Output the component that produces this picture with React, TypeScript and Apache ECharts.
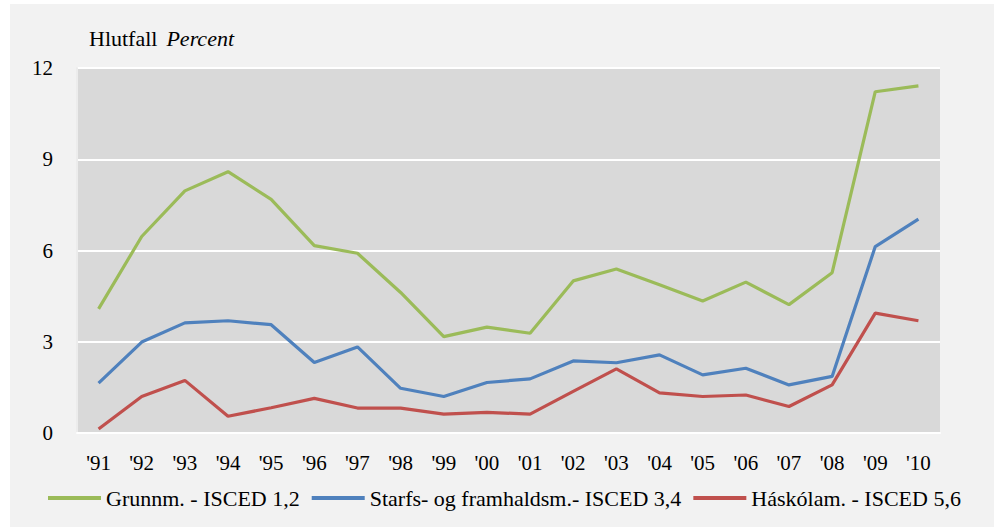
import React, { useEffect, useRef } from "react";
import * as echarts from "echarts";

const years = ["'91", "'92", "'93", "'94", "'95", "'96", "'97", "'98", "'99", "'00", "'01", "'02", "'03", "'04", "'05", "'06", "'07", "'08", "'09", "'10"];
const grunnm = [4.08, 6.46, 7.96, 8.59, 7.68, 6.16, 5.91, 4.62, 3.17, 3.48, 3.28, 5.0, 5.39, 4.87, 4.34, 4.96, 4.22, 5.27, 11.22, 11.41];
const starfs = [1.64, 2.99, 3.62, 3.69, 3.56, 2.32, 2.83, 1.47, 1.2, 1.66, 1.78, 2.37, 2.31, 2.57, 1.91, 2.13, 1.58, 1.86, 6.13, 7.03];
const haskola = [0.13, 1.2, 1.73, 0.55, 0.83, 1.14, 0.82, 0.82, 0.62, 0.68, 0.62, 1.37, 2.11, 1.32, 1.2, 1.25, 0.87, 1.58, 3.94, 3.69];
const seriesNames = ["Grunnm. - ISCED 1,2", "Starfs- og framhaldsm.- ISCED 3,4", "Háskólam. - ISCED 5,6"];
const colors = ["#9bbb59", "#4f81bd", "#c0504d"];

const FONT = '"Liberation Serif", "Times New Roman", serif';

export default function App() {
  const ref = useRef<HTMLDivElement>(null);
  useEffect(() => {
    if (!ref.current) return;
    const chart = echarts.init(ref.current, null, { renderer: "svg" });
    const data = [grunnm, starfs, haskola];
    chart.setOption({
      animation: false,
      backgroundColor: "#ffffff",
      textStyle: { fontFamily: FONT },
      graphic: [
        {
          type: "rect",
          z: -10,
          silent: true,
          shape: { x: 10, y: 4, width: 994, height: 527 },
          style: { fill: "#f2f2f2" },
        },
      ],
      title: {
        left: 84,
        top: 22,
        text: "{a|Hlutfall}  {b|Percent}",
        textStyle: {
          fontWeight: "normal",
          rich: {
            a: { fontFamily: FONT, fontSize: 22, color: "#000", fontStyle: "normal", fontWeight: "normal" },
            b: { fontFamily: FONT, fontSize: 22, color: "#000", fontStyle: "italic", fontWeight: "normal" },
          },
        },
      },
      grid: {
        left: 77,
        right: 54,
        top: 68,
        bottom: 94,
        show: true,
        backgroundColor: "#d9d9d9",
        borderWidth: 0,
      },
      legend: {
        left: 43,
        top: 482,
        itemWidth: 53,
        itemHeight: 4,
        itemGap: 12,
        icon: "rect",
        textStyle: { fontFamily: FONT, fontSize: 22, color: "#000" },
        data: seriesNames.map((n, i) => ({ name: n, itemStyle: { color: colors[i] } })),
      },
      xAxis: {
        type: "category",
        data: years,
        boundaryGap: true,
        axisLine: { show: true, lineStyle: { color: "#ffffff", width: 2 } },
        axisTick: { show: false },
        axisLabel: { fontFamily: FONT, fontSize: 21, color: "#000", margin: 19, interval: 0 },
        splitLine: { show: false },
      },
      yAxis: {
        type: "value",
        min: 0,
        max: 12,
        interval: 3,
        axisLine: { show: true, lineStyle: { color: "#ececec", width: 2 } },
        axisTick: { show: false },
        axisLabel: { fontFamily: FONT, fontSize: 21, color: "#000", margin: 24 },
        splitLine: { show: true, lineStyle: { color: "#ffffff", width: 2 } },
      },
      series: data.map((d, i) => ({
        name: seriesNames[i],
        type: "line",
        data: d,
        showSymbol: false,
        symbol: "none",
        lineStyle: { color: colors[i], width: 3.2 },
        itemStyle: { color: colors[i] },
      })),
    });
    return () => chart.dispose();
  }, []);
  return (
    <div
      ref={ref}
      style={{ position: "fixed", left: 0, top: 0, width: 994, height: 527 }}
    />
  );
}
